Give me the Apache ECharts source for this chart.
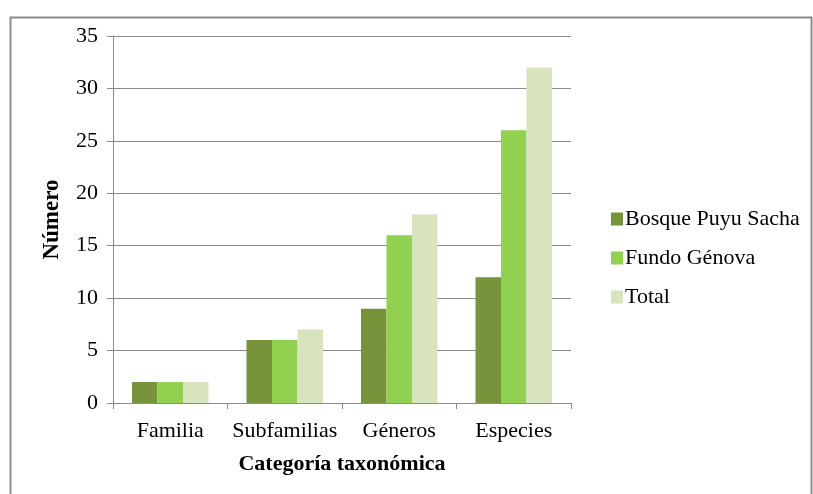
<!DOCTYPE html>
<html>
<head>
<meta charset="utf-8">
<script src="https://cdn.jsdelivr.net/npm/echarts@6/dist/echarts.min.js"></script>
<style>
  html, body { margin: 0; padding: 0; background: #fff; }
  #chart { width: 813px; height: 494px; }
</style>
</head>
<body>
<div id="chart"></div>
<script>
// Taxonomic counts per site
const categories = ['Familia', 'Subfamilias', 'Géneros', 'Especies'];
const bosquePuyuSacha = [2, 6, 9, 12];
const fundoGenova = [2, 6, 16, 26];
const total = [2, 7, 18, 32];
const yTicks = { min: 0, max: 35, interval: 5 };

const serif = '"Liberation Serif", "Times New Roman", serif';
const chart = echarts.init(document.getElementById('chart'));

function barSeries(name, data, color) {
  return {
    name: name,
    type: 'bar',
    data: data,
    barWidth: 25.5,
    barGap: '0%',
    itemStyle: { color: color },
    emphasis: { disabled: true }
  };
}

chart.setOption({
  animation: false,
  textStyle: { fontFamily: serif },
  graphic: [{
    type: 'rect',
    shape: { x: 10.5, y: 17.5, width: 801, height: 520 },
    style: { fill: 'none', stroke: '#8c8c8c', lineWidth: 2 },
    silent: true
  }],
  grid: { left: 113, right: 242, top: 36, bottom: 91, containLabel: false },
  legend: {
    orient: 'vertical',
    left: 606,
    top: 203,
    itemWidth: 12,
    itemHeight: 13,
    itemGap: 17,
    icon: 'rect',
    textStyle: { fontFamily: serif, fontSize: 22, color: '#000', padding: [0, 0, 0, -3] },
    data: ['Bosque Puyu Sacha', 'Fundo Génova', 'Total']
  },
  xAxis: {
    type: 'category',
    data: categories,
    name: 'Categoría taxonómica',
    nameLocation: 'middle',
    nameGap: 50,
    nameTextStyle: { fontFamily: serif, fontSize: 22, fontWeight: 'bold', color: '#000' },
    axisLine: { lineStyle: { color: '#8c8c8c', width: 1 } },
    axisTick: { show: true, length: 6, lineStyle: { color: '#8c8c8c' } },
    axisLabel: { interval: 0, fontFamily: serif, fontSize: 22, color: '#000', margin: 17 }
  },
  yAxis: {
    type: 'value',
    min: yTicks.min,
    max: yTicks.max,
    interval: yTicks.interval,
    name: 'Número',
    nameLocation: 'middle',
    nameGap: 49,
    nameRotate: 90,
    nameTextStyle: { fontFamily: serif, fontSize: 23, fontWeight: 'bold', color: '#000' },
    axisLine: { show: true, lineStyle: { color: '#8c8c8c', width: 1 } },
    axisTick: { show: true, length: 6, lineStyle: { color: '#8c8c8c' } },
    axisLabel: { fontFamily: serif, fontSize: 22, color: '#000', margin: 15 },
    splitLine: { lineStyle: { color: '#8c8c8c', width: 1 } }
  },
  series: [
    barSeries('Bosque Puyu Sacha', bosquePuyuSacha, '#77933C'),
    barSeries('Fundo Génova', fundoGenova, '#92D050'),
    barSeries('Total', total, '#D7E4BD')
  ]
});
</script>
</body>
</html>
